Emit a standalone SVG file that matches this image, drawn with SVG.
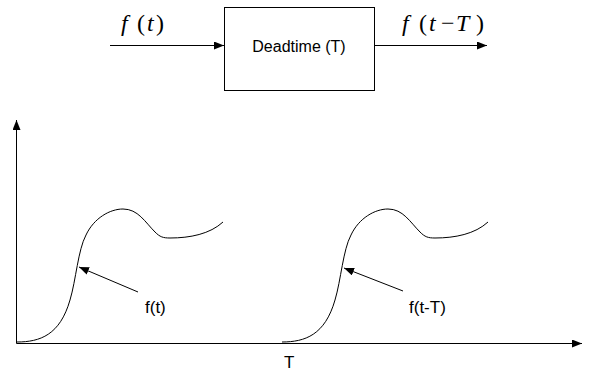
<svg xmlns="http://www.w3.org/2000/svg" width="597" height="372" viewBox="0 0 597 372">
<style>
.ln{stroke:#000;stroke-width:1;fill:none}
.sans{font-family:"Liberation Sans",Arial,sans-serif;font-size:16px;fill:#000}
.lbl{font-size:17px}
.math{font-family:"Liberation Serif","Times New Roman",serif;font-size:24px;fill:#000}
.it{font-style:italic}
</style>
<defs>
<marker id="ah" viewBox="0 0 10 8" refX="10" refY="4" markerWidth="10" markerHeight="8" markerUnits="userSpaceOnUse" orient="auto">
<path d="M0,0 L10,4 L0,8 Z" fill="#000"/>
</marker>
<path id="curve" d="M17,342 C40,342 60,335 70,300 C76,280 78,250 86,235 C94,218 110,209 123,209 C138,209 145,222 155,232 C160,237 163,238 170,238 C190,238 210,234 223,222"/>
</defs>
<rect width="597" height="372" fill="#fff"/>
<g id="block">
<rect x="224.5" y="7.5" width="150" height="83" class="ln"/>
<text x="299" y="52" class="sans" text-anchor="middle">Deadtime (T)</text>
</g>
<g id="label-in">
<text class="math" y="31"><tspan class="it" x="121">f</tspan><tspan x="137">(</tspan><tspan class="it" x="147">t</tspan><tspan x="156">)</tspan></text>
</g>
<g id="label-out">
<text class="math" y="31"><tspan class="it" x="402">f</tspan><tspan x="419">(</tspan><tspan class="it" x="429">t</tspan><tspan x="441">−</tspan><tspan class="it" x="456">T</tspan><tspan x="476">)</tspan></text>
</g>
<g id="axes">
<line x1="16.5" y1="343.5" x2="16.5" y2="120" class="ln" marker-end="url(#ah)"/>
<line x1="16.5" y1="343.5" x2="582" y2="343.5" class="ln" marker-end="url(#ah)"/>
<text x="284" y="368" class="sans lbl">T</text>
</g>
<g id="curve-ft">
<use href="#curve" class="ln"/>
<text x="145" y="313" class="sans lbl">f(t)</text>
</g>
<g id="curve-ftT">
<use href="#curve" class="ln" transform="translate(265,0)"/>
<text x="409" y="313" class="sans lbl">f(t-T)</text>
</g>
<g id="connectors">
<line x1="110" y1="45.5" x2="224" y2="45.5" class="ln" marker-end="url(#ah)"/>
<line x1="374.5" y1="45.5" x2="487" y2="45.5" class="ln" marker-end="url(#ah)"/>
<line x1="138" y1="292" x2="79" y2="267" class="ln" marker-end="url(#ah)"/>
<line x1="403" y1="291" x2="344" y2="268" class="ln" marker-end="url(#ah)"/>
</g>
</svg>
